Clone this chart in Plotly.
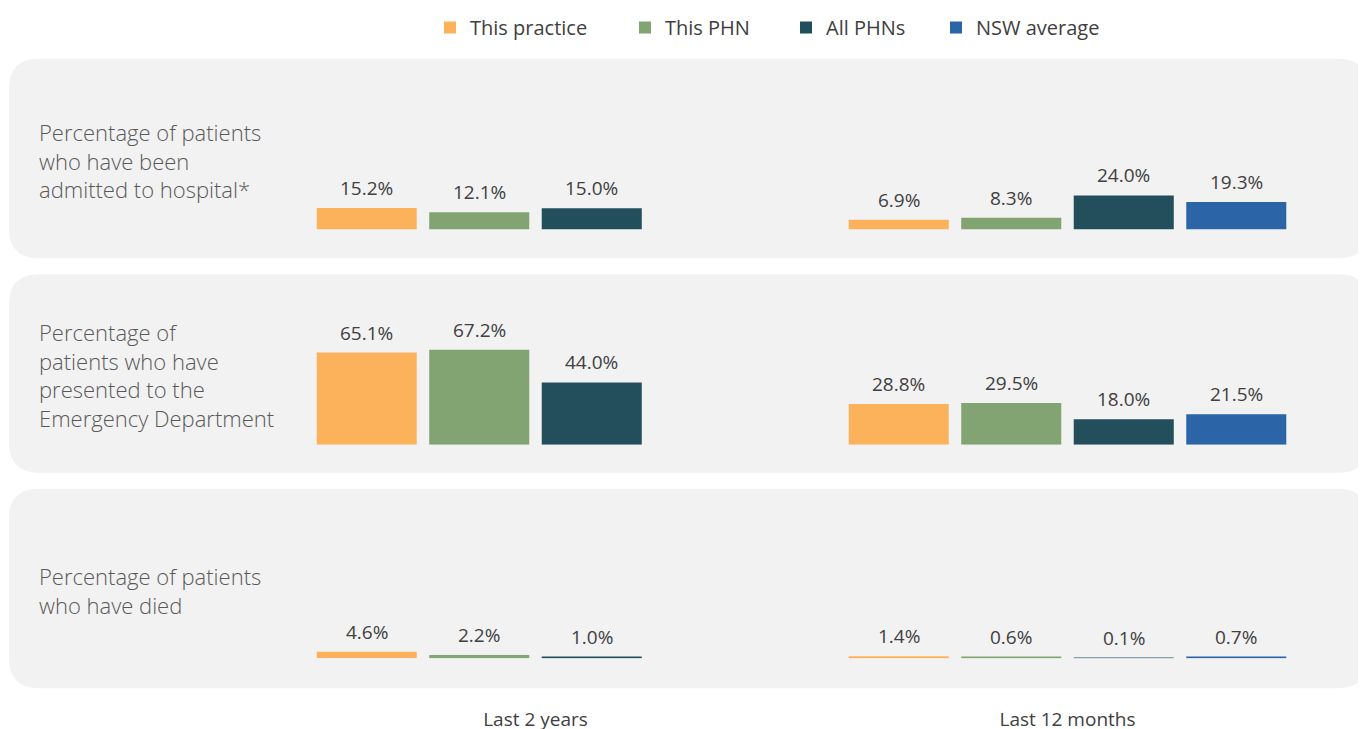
import plotly.graph_objects as go
from plotly.subplots import make_subplots

# ---------------- data ----------------
periods = ["Last 2 years", "Last 12 months"]
series_names = ["This practice", "This PHN", "All PHNs", "NSW average"]
series_colors = ["#FBB25B", "#82A472", "#234F5C", "#2B65A8"]
row_labels = [
    "Percentage of patients<br>who have been<br>admitted to hospital*",
    "Percentage of<br>patients who have<br>presented to the<br>Emergency Department",
    "Percentage of patients<br>who have died",
]
# values[row][series] -> [Last 2 years, Last 12 months]; None = not reported
hospital = {
    "This practice": [15.2, 6.9],
    "This PHN": [12.1, 8.3],
    "All PHNs": [15.0, 24.0],
    "NSW average": [None, 19.3],
}
emergency = {
    "This practice": [65.1, 28.8],
    "This PHN": [67.2, 29.5],
    "All PHNs": [44.0, 18.0],
    "NSW average": [None, 21.5],
}
died = {
    "This practice": [4.6, 1.4],
    "This PHN": [2.2, 0.6],
    "All PHNs": [1.0, 0.1],
    "NSW average": [None, 0.7],
}
rows_data = [hospital, emergency, died]

# ---------------- layout helpers (screen pixels -> paper) ----------------
W, H = 1366, 729
PAGE_OFF = 8  # default body margin of the html page
def fx(px):
    return (px - PAGE_OFF) / W
def fy(py):
    return 1 - (py - PAGE_OFF) / H

BARGAP = 0.154
BARGROUPGAP = 0.111
YMAX = 100
baselines = [228, 444, 658]       # screen pixel y of each row's baseline
row_px_height = 142               # pixel height for YMAX
panels = [(57, 257), (273, 472), (488, 688)]
x_left_px, x_right_px = 269.5, 1333.5

fig = make_subplots(rows=3, cols=1)

legend_ids = ["legend", "legend2", "legend3", "legend4"]
for r, data in enumerate(rows_data, start=1):
    for i, name in enumerate(series_names):
        fig.add_trace(
            go.Bar(
                x=periods,
                y=data[name],
                name=name,
                marker=dict(color=series_colors[i], line=dict(width=0)),
                showlegend=(r == 1),
                legend=legend_ids[i],
                hoverinfo="skip",
            ),
            row=r, col=1,
        )

# axes domains
for r in range(3):
    b = baselines[r]
    t = b - row_px_height
    ax_suffix = "" if r == 0 else str(r + 1)
    fig.layout["yaxis" + ax_suffix].update(
        domain=[fy(b), fy(t)], range=[0, YMAX], visible=False, fixedrange=True
    )
    fig.layout["xaxis" + ax_suffix].update(
        domain=[fx(x_left_px), fx(x_right_px)],
        range=[-0.5, 1.5],
        showgrid=False, zeroline=False, showline=False, ticks="",
        showticklabels=(r == 2),
        tickfont=dict(family="Open Sans", size=19, color="#404040"),
        ticklabelstandoff=48,
    )

# panel backgrounds (rounded rectangles)
rad = 30
shapes = []
for (top, bot) in panels:
    x0, x1 = 9, 1368
    path = (
        f"M {fx(x0 + rad)},{fy(top)} L {fx(x1 - rad)},{fy(top)} "
        f"Q {fx(x1)},{fy(top)} {fx(x1)},{fy(top + rad)} "
        f"L {fx(x1)},{fy(bot - rad)} Q {fx(x1)},{fy(bot)} {fx(x1 - rad)},{fy(bot)} "
        f"L {fx(x0 + rad)},{fy(bot)} Q {fx(x0)},{fy(bot)} {fx(x0)},{fy(bot - rad)} "
        f"L {fx(x0)},{fy(top + rad)} Q {fx(x0)},{fy(top)} {fx(x0 + rad)},{fy(top)} Z"
    )
    shapes.append(dict(type="path", path=path, xref="paper", yref="paper",
                       fillcolor="#F2F2F2", line=dict(width=0), layer="below"))

annotations = []
# row labels
for r, (top, bot) in enumerate(panels):
    annotations.append(dict(
        text=row_labels[r], xref="paper", yref="paper",
        x=fx(37), y=fy((top + bot) / 2 + 2), xanchor="left", yanchor="middle",
        align="left", showarrow=False,
        font=dict(family="Open Sans", size=22, color="#595959", weight=300),
    ))

# value labels above bars
slot = (1 - BARGAP) / len(series_names)
for r, data in enumerate(rows_data):
    ax_suffix = "" if r == 0 else str(r + 1)
    for i, name in enumerate(series_names):
        for g, v in enumerate(data[name]):
            if v is None:
                continue
            annotations.append(dict(
                text=f"{v:.1f}%", xref="x" + ax_suffix, yref="y" + ax_suffix,
                x=g + (i - (len(series_names) - 1) / 2) * slot, y=v,
                xanchor="center", yanchor="middle", yshift=20, showarrow=False,
                font=dict(family="Open Sans", size=19, color="#404040"),
            ))

legend_x_px = [430, 625, 786, 936]
legend_common = dict(
    orientation="h", yanchor="top", y=fy(6), xanchor="left",
    font=dict(family="Open Sans", size=20, color="#404040"),
    bgcolor="rgba(0,0,0,0)", borderwidth=0,
)
legend_layout = {}
for i, lid in enumerate(legend_ids):
    legend_layout[lid] = dict(legend_common, x=fx(legend_x_px[i]))

fig.update_layout(
    width=W, height=H,
    margin=dict(l=0, r=0, t=0, b=0),
    paper_bgcolor="white", plot_bgcolor="rgba(0,0,0,0)",
    barmode="group", bargap=BARGAP, bargroupgap=BARGROUPGAP,
    shapes=shapes, annotations=annotations,
    font=dict(family="Open Sans"),
    **legend_layout,
)

fig.write_html("out.html", config={"displayModeBar": False})
